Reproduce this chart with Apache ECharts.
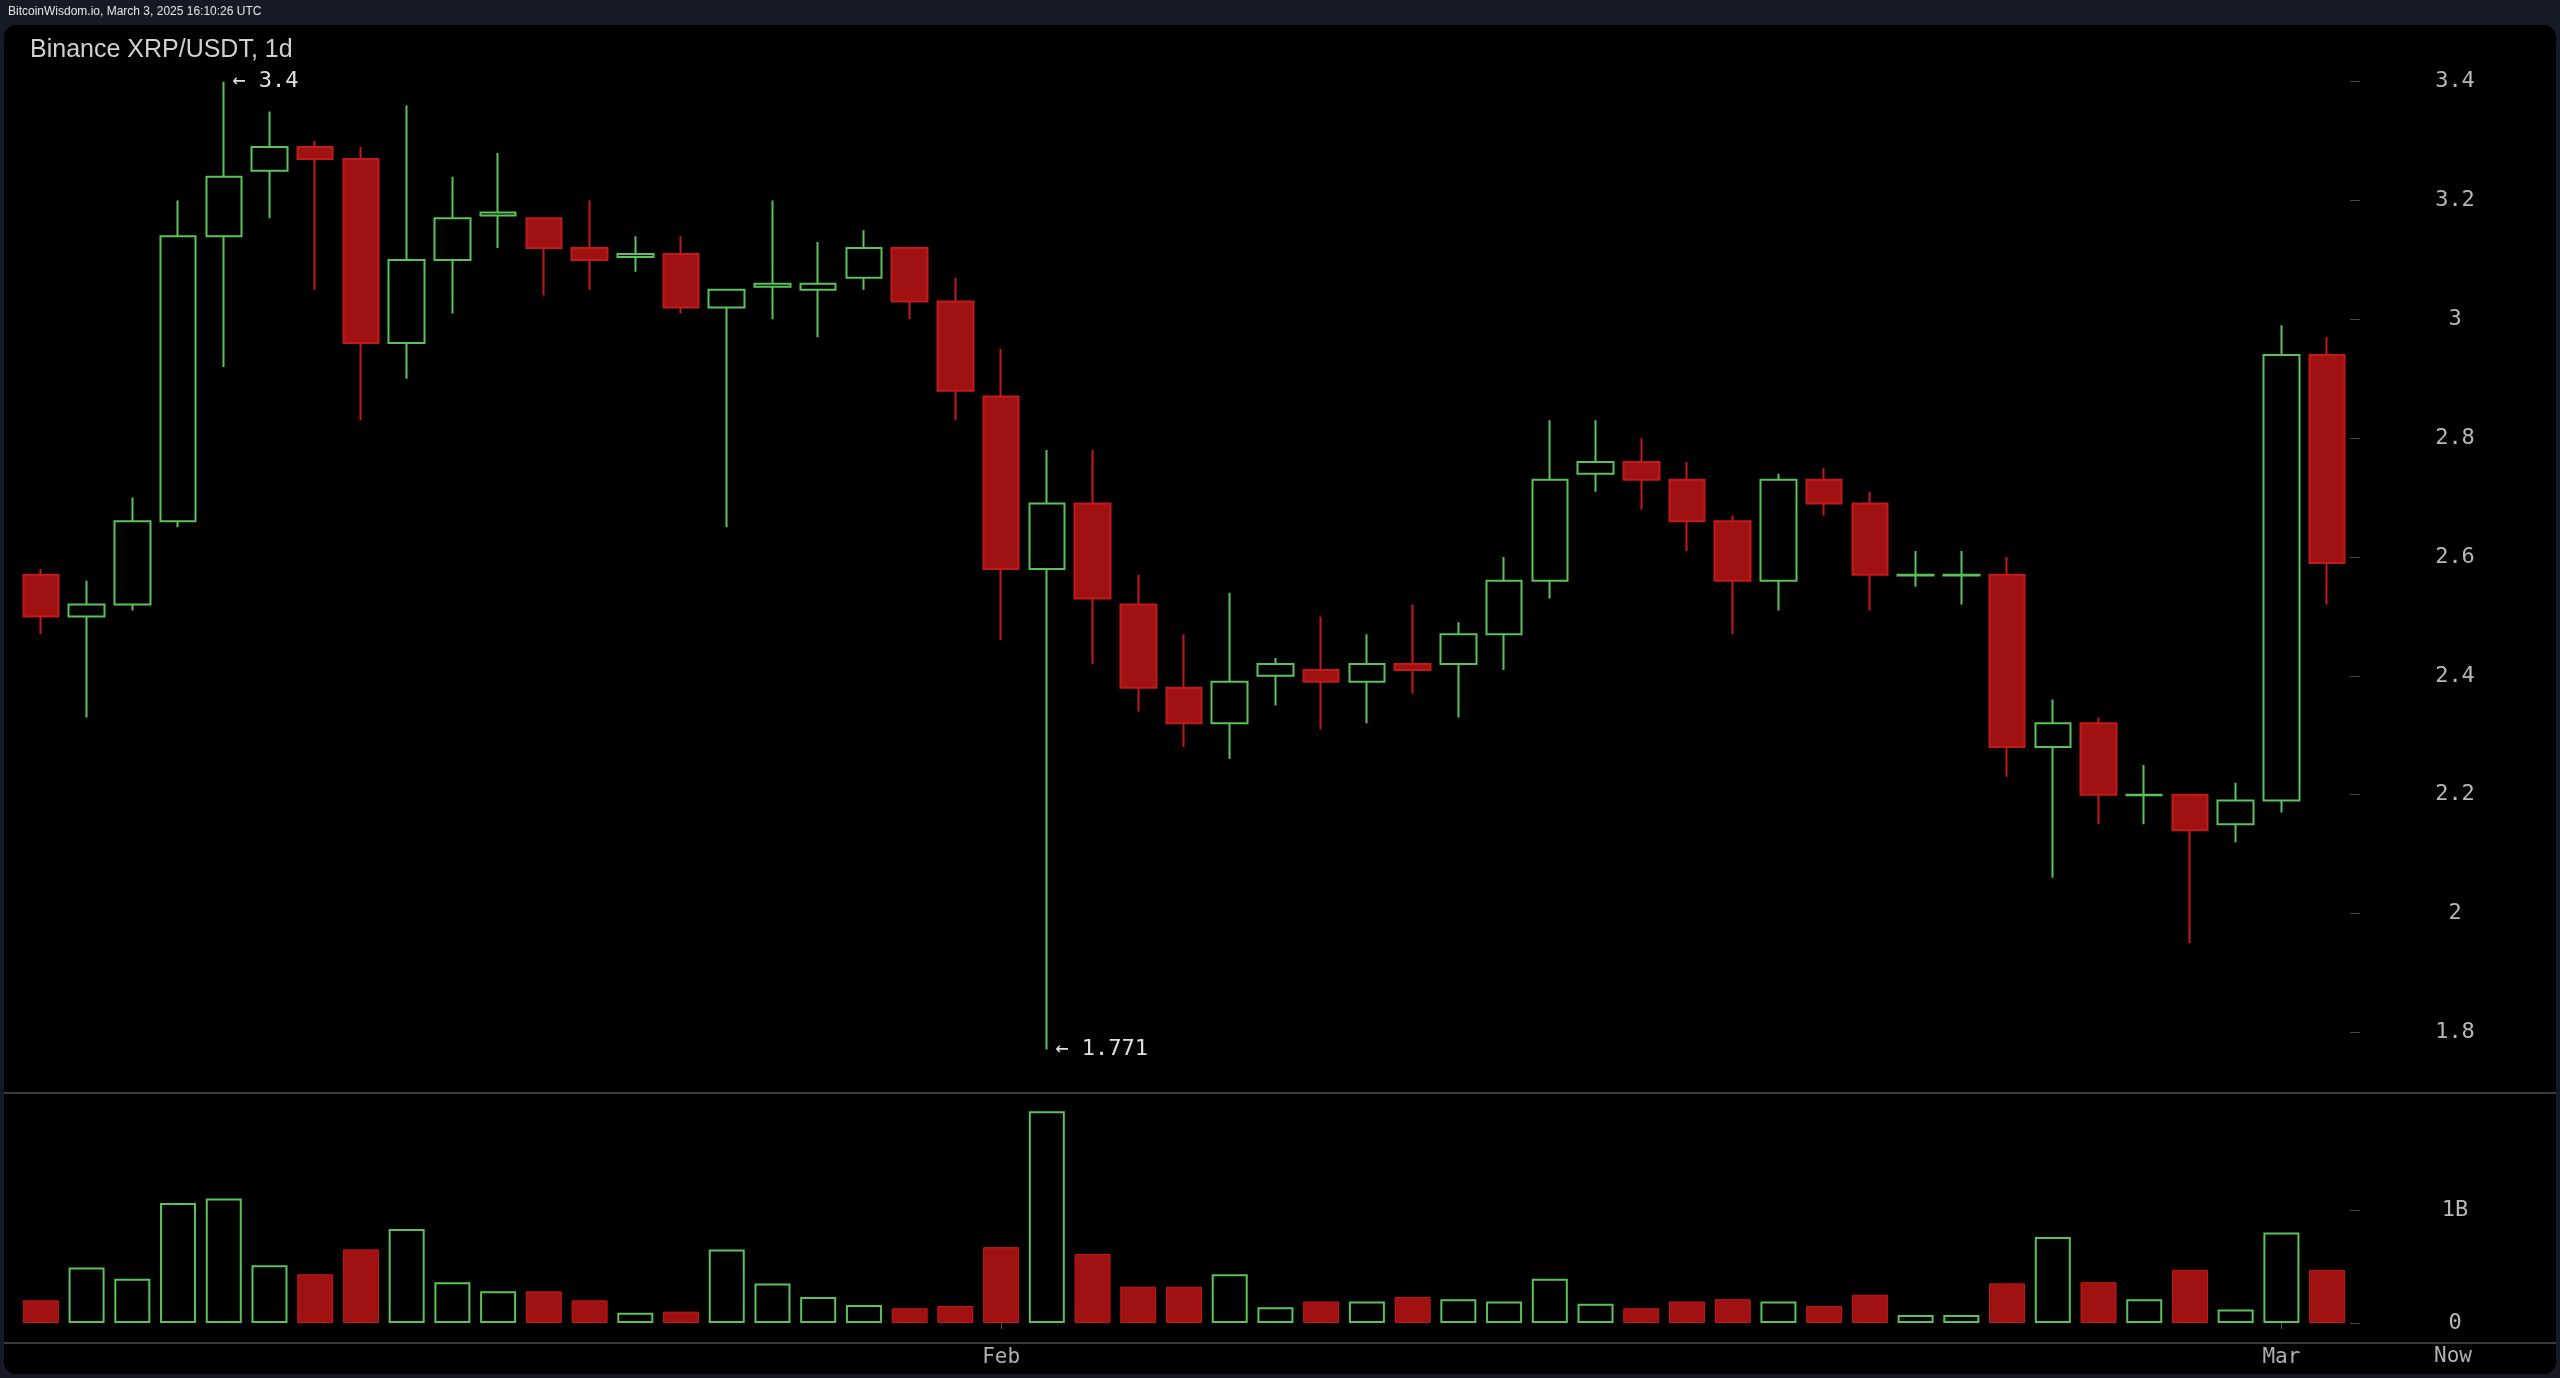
<!DOCTYPE html>
<html><head><meta charset="utf-8">
<script src="https://cdn.jsdelivr.net/npm/echarts@6/dist/echarts.min.js"></script>
<style>html,body{margin:0;padding:0;background:#151a24;}#c{width:2560px;height:1378px;}</style>
</head><body><div id="c"></div>
<script>
// daily candles, Jan 12 .. Mar 3 2025
var dates = [];
(function () {
  var d = new Date(Date.UTC(2025, 0, 12));
  for (var i = 0; i < 51; i++) {
    dates.push(d.toISOString().slice(0, 10));
    d.setUTCDate(d.getUTCDate() + 1);
  }
})();

var opens  = [2.57,2.50,2.52,2.66,3.14,3.25,3.29,3.27,2.96,3.10,3.175,3.17,3.12,3.105,3.11,3.02,3.055,3.05,3.07,3.12,3.03,2.87,2.58,2.69,2.52,2.38,2.32,2.40,2.41,2.39,2.42,2.42,2.47,2.56,2.74,2.76,2.73,2.66,2.56,2.73,2.69,2.569,2.569,2.57,2.28,2.32,2.199,2.20,2.15,2.19,2.94];
var closes = [2.50,2.52,2.66,3.14,3.24,3.29,3.27,2.96,3.10,3.17,3.18,3.12,3.10,3.11,3.02,3.05,3.06,3.06,3.12,3.03,2.88,2.58,2.69,2.53,2.38,2.32,2.39,2.42,2.39,2.42,2.41,2.47,2.56,2.73,2.76,2.73,2.66,2.56,2.73,2.69,2.57,2.57,2.57,2.28,2.32,2.20,2.20,2.14,2.19,2.94,2.59];
var highs  = [2.58,2.56,2.70,3.20,3.40,3.35,3.30,3.29,3.36,3.24,3.28,3.17,3.20,3.14,3.14,3.05,3.20,3.13,3.15,3.12,3.07,2.95,2.78,2.78,2.57,2.47,2.54,2.43,2.50,2.47,2.52,2.49,2.60,2.83,2.83,2.80,2.76,2.67,2.74,2.75,2.71,2.61,2.61,2.60,2.36,2.33,2.25,2.20,2.22,2.99,2.97];
var lows   = [2.47,2.33,2.51,2.65,2.92,3.17,3.05,2.83,2.90,3.01,3.12,3.04,3.05,3.08,3.01,2.65,3.00,2.97,3.05,3.00,2.83,2.46,1.771,2.42,2.34,2.28,2.26,2.35,2.31,2.32,2.37,2.33,2.41,2.53,2.71,2.68,2.61,2.47,2.51,2.67,2.51,2.55,2.52,2.23,2.06,2.15,2.15,1.95,2.12,2.17,2.52];
var volumes = [0.20,0.49,0.39,1.06,1.10,0.51,0.43,0.65,0.83,0.36,0.28,0.28,0.20,0.09,0.10,0.65,0.35,0.23,0.16,0.13,0.15,0.67,1.87,0.61,0.32,0.32,0.43,0.14,0.19,0.19,0.23,0.21,0.19,0.39,0.17,0.13,0.19,0.21,0.19,0.15,0.25,0.07,0.07,0.35,0.76,0.36,0.21,0.47,0.12,0.80,0.47];

var priceTicks = [1.8,2,2.2,2.4,2.6,2.8,3,3.2,3.4];
var volumeTicks = [0, 1];
var monthLabels = { 21: 'Feb', 49: 'Mar' };

var GREEN = '#5bc25b';
var RED_FILL = '#a01212';
var RED_EDGE = '#c21a1a';

var ohlc = dates.map(function (d, i) { return [opens[i], closes[i], lows[i], highs[i]]; });
var volData = volumes.map(function (v, i) {
  var up = closes[i] >= opens[i];
  return { value: v, itemStyle: up ? { color: '#000', borderColor: GREEN, borderWidth: 2 } : { color: RED_FILL, borderColor: RED_EDGE, borderWidth: 1 } };
});

var myChart = echarts.init(document.getElementById('c'));
var mono = 'DejaVu Sans Mono';

option = {
  backgroundColor: '#151a24',
  animation: false,
  graphic: [
    { type: 'rect', shape: { x: 4, y: 25, width: 2552, height: 1349, r: 12 }, style: { fill: '#000' }, z: -10 },
    { type: 'text', left: 8, top: 6, style: { text: 'BitcoinWisdom.io, March 3, 2025 16:10:26 UTC', fill: '#e6e6e6', font: '12px Liberation Sans' } },
    { type: 'text', left: 30, top: 38, style: { text: 'Binance XRP/USDT, 1d', fill: '#d0d0d0', font: '25px Liberation Sans' } },
    { type: 'line', shape: { x1: 4, y1: 1093, x2: 2556, y2: 1093 }, style: { stroke: '#3a3a3a', lineWidth: 2 } },
    { type: 'line', shape: { x1: 4, y1: 1343, x2: 2556, y2: 1343 }, style: { stroke: '#3a3a3a', lineWidth: 2 } },
    { type: 'text', left: 2434, top: 1346, style: { text: 'Now', fill: '#b0b0b0', font: '21px ' + mono } }
  ],
  grid: [
    { left: 18, right: 210, top: 52, height: 1010 },
    { left: 18, right: 210, top: 1100, height: 223 }
  ],
  xAxis: [
    { type: 'category', data: dates, gridIndex: 0, boundaryGap: true,
      axisLine: { show: false }, axisTick: { show: false }, axisLabel: { show: false }, splitLine: { show: false } },
    { type: 'category', data: dates, gridIndex: 1, boundaryGap: true,
      axisLine: { show: false },
      axisTick: { show: true, alignWithLabel: true, length: 6, lineStyle: { color: '#555' },
        interval: function (i) { return monthLabels[i] !== undefined; } },
      axisLabel: { margin: 24, color: '#b0b0b0', fontFamily: mono, fontSize: 21,
        interval: function (i) { return monthLabels[i] !== undefined; },
        formatter: function (v, i) { return monthLabels[i] || ''; } },
      splitLine: { show: false } }
  ],
  yAxis: [
    { type: 'value', gridIndex: 0, position: 'right', min: 1.75, max: 3.45, scale: true,
      axisLine: { show: false },
      axisTick: { show: true, length: 10, lineStyle: { color: '#444' }, customValues: priceTicks },
      axisLabel: { customValues: priceTicks, margin: 105, align: 'center', color: '#b8b8b8', fontFamily: mono, fontSize: 22,
        formatter: function (v) { return String(Math.round(v * 10) / 10); } },
      splitLine: { show: false } },
    { type: 'value', gridIndex: 1, position: 'right', min: 0, max: 1.97,
      axisLine: { show: false },
      axisTick: { show: true, length: 10, lineStyle: { color: '#444' }, customValues: volumeTicks },
      axisLabel: { customValues: volumeTicks, margin: 105, align: 'center', color: '#b8b8b8', fontFamily: mono, fontSize: 22,
        formatter: function (v) { return v === 0 ? '0' : v + 'B'; } },
      splitLine: { show: false } }
  ],
  series: [
    {
      name: 'XRP/USDT', type: 'candlestick', xAxisIndex: 0, yAxisIndex: 0, data: ohlc,
      barWidth: 36,
      itemStyle: { color: '#000', color0: RED_FILL, borderColor: GREEN, borderColor0: RED_EDGE, borderWidth: 2 },
      markPoint: {
        symbol: 'circle', symbolSize: 1, itemStyle: { color: 'transparent' },
        label: { show: true, position: 'right', distance: 4, color: '#e0e0e0', fontFamily: mono, fontSize: 22 },
        data: [
          { coord: [4, highs[4]], label: { formatter: '\u2190 3.4', offset: [4, 0] } },
          { coord: [22, lows[22]], label: { formatter: '\u2190 1.771', offset: [4, 0] } }
        ]
      }
    },
    { name: 'Volume', type: 'bar', xAxisIndex: 1, yAxisIndex: 1, data: volData, barWidth: 36 }
  ]
};
myChart.setOption(option);
</script>
</body></html>
